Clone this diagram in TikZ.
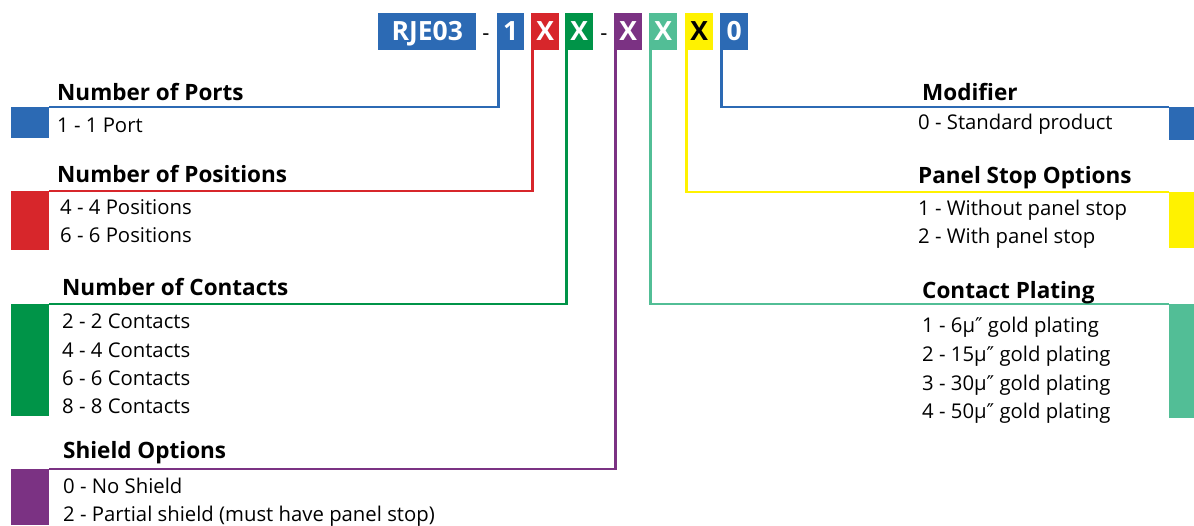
\documentclass[tikz,border=0pt]{standalone}
\usepackage{fontspec}
\setmainfont{Open Sans}
\newfontfamily\dvfont{DejaVu Sans}
\newcommand{\dprime}{{\dvfont ″}}
\definecolor{cblue}{HTML}{2C6AB4}
\definecolor{cred}{HTML}{D7262B}
\definecolor{cgreen}{HTML}{009448}
\definecolor{cpurple}{HTML}{7B3283}
\definecolor{cteal}{HTML}{52BE96}
\definecolor{cyellow}{HTML}{FFF200}
\tikzset{
  hbox/.style={anchor=north west, inner sep=0pt, minimum height=37pt, minimum width=28pt,
    text height=19pt, text depth=0.5pt,
    font=\fontsize{26.5}{26.5}\selectfont\bfseries, text=white},
  dashtxt/.style={anchor=base, inner sep=0pt, font=\fontsize{22}{22}\selectfont},
  sqbox/.style={anchor=north west, inner sep=0pt, draw=none},
  ttl/.style={anchor=base west, inner sep=0pt, font=\fontsize{22.5}{22.5}\selectfont\bfseries},
  itm/.style={anchor=base west, inner sep=0pt, font=\fontsize{20.3}{20.3}\selectfont},
  conn/.style={line width=2.5pt},
}
\begin{document}
\begin{tikzpicture}[x=1pt,y=-1pt]
\useasboundingbox (0,0) rectangle (1194,525);
% header code boxes
\node[hbox, fill=cblue, minimum width=98pt] (code) at (378,13) {RJE03};
\node[dashtxt] (d1) at (486,40) {-};
\node[hbox, fill=cblue, minimum width=27pt] (b1) at (497,13) {1};
\node[hbox, fill=cred] (b2) at (531,13) {X};
\node[hbox, fill=cgreen] (b3) at (565,13) {X};
\node[dashtxt] (d2) at (604,40) {-};
\node[hbox, fill=cpurple] (b4) at (614,13) {X};
\node[hbox, fill=cteal] (b5) at (649,13) {X};
\node[hbox, fill=cyellow, text=black] (b6) at (685,13) {X};
\node[hbox, fill=cblue] (b7) at (720,13) {0};
% left squares
\node[sqbox, fill=cblue, minimum width=38pt, minimum height=31pt] (s1) at (11,107) {};
\node[sqbox, fill=cred, minimum width=38pt, minimum height=59pt] (s2) at (11,191) {};
\node[sqbox, fill=cgreen, minimum width=38pt, minimum height=112pt] (s3) at (11,304) {};
\node[sqbox, fill=cpurple, minimum width=38pt, minimum height=56pt] (s4) at (11,469) {};
% right squares
\node[sqbox, fill=cblue, minimum width=25pt, minimum height=33pt] (s7) at (1169,107) {};
\node[sqbox, fill=cyellow, minimum width=25pt, minimum height=56pt] (s6) at (1169,192) {};
\node[sqbox, fill=cteal, minimum width=25pt, minimum height=114pt] (s5) at (1169,304) {};
% connectors
\draw[conn, cblue] ([xshift=1.25pt]b1.south west) |- (s1.north east);
\draw[conn, cred] ([xshift=1.25pt]b2.south west) |- (s2.north east);
\draw[conn, cgreen] ([xshift=1.25pt]b3.south west) |- (s3.north east);
\draw[conn, cpurple] ([xshift=1.25pt]b4.south west) |- (s4.north east);
\draw[conn, cteal] ([xshift=1.25pt]b5.south west) |- (s5.north west);
\draw[conn, cyellow] ([xshift=1.25pt]b6.south west) |- (s6.north west);
\draw[conn, cblue] ([xshift=1.25pt]b7.south west) |- (s7.north west);
% left texts
\node[ttl] (t1) at (57,100) {Number of Ports};
\node[itm] (t1a) at (57,132) {1 - 1 Port};
\node[ttl] (t2) at (57,182) {Number of Positions};
\node[itm] (t2a) at (60,214) {4 - 4 Positions};
\node[itm] (t2b) at (60,242) {6 - 6 Positions};
\node[ttl] (t3) at (62,295) {Number of Contacts};
\node[itm] (t3a) at (62,328) {2 - 2 Contacts};
\node[itm] (t3b) at (62,357) {4 - 4 Contacts};
\node[itm] (t3c) at (62,385) {6 - 6 Contacts};
\node[itm] (t3d) at (62,413) {8 - 8 Contacts};
\node[ttl] (t4) at (63,458) {Shield Options};
\node[itm] (t4a) at (63,493) {0 - No Shield};
\node[itm] (t4b) at (63,521) {2 - Partial shield (must have panel stop)};
% right texts
\node[ttl] (t7) at (922,100) {Modifier};
\node[itm] (t7a) at (918,129) {0 - Standard product};
\node[ttl] (t6) at (918,183) {Panel Stop Options};
\node[itm] (t6a) at (918,215) {1 - Without panel stop};
\node[itm] (t6b) at (918,243) {2 - With panel stop};
\node[ttl] (t5) at (922,298) {Contact Plating};
\node[itm] (t5a) at (922,332) {1 - 6µ\dprime{} gold plating};
\node[itm] (t5b) at (922,361) {2 - 15µ\dprime{} gold plating};
\node[itm] (t5c) at (922,390) {3 - 30µ\dprime{} gold plating};
\node[itm] (t5d) at (922,418) {4 - 50µ\dprime{} gold plating};
\end{tikzpicture}
\end{document}
